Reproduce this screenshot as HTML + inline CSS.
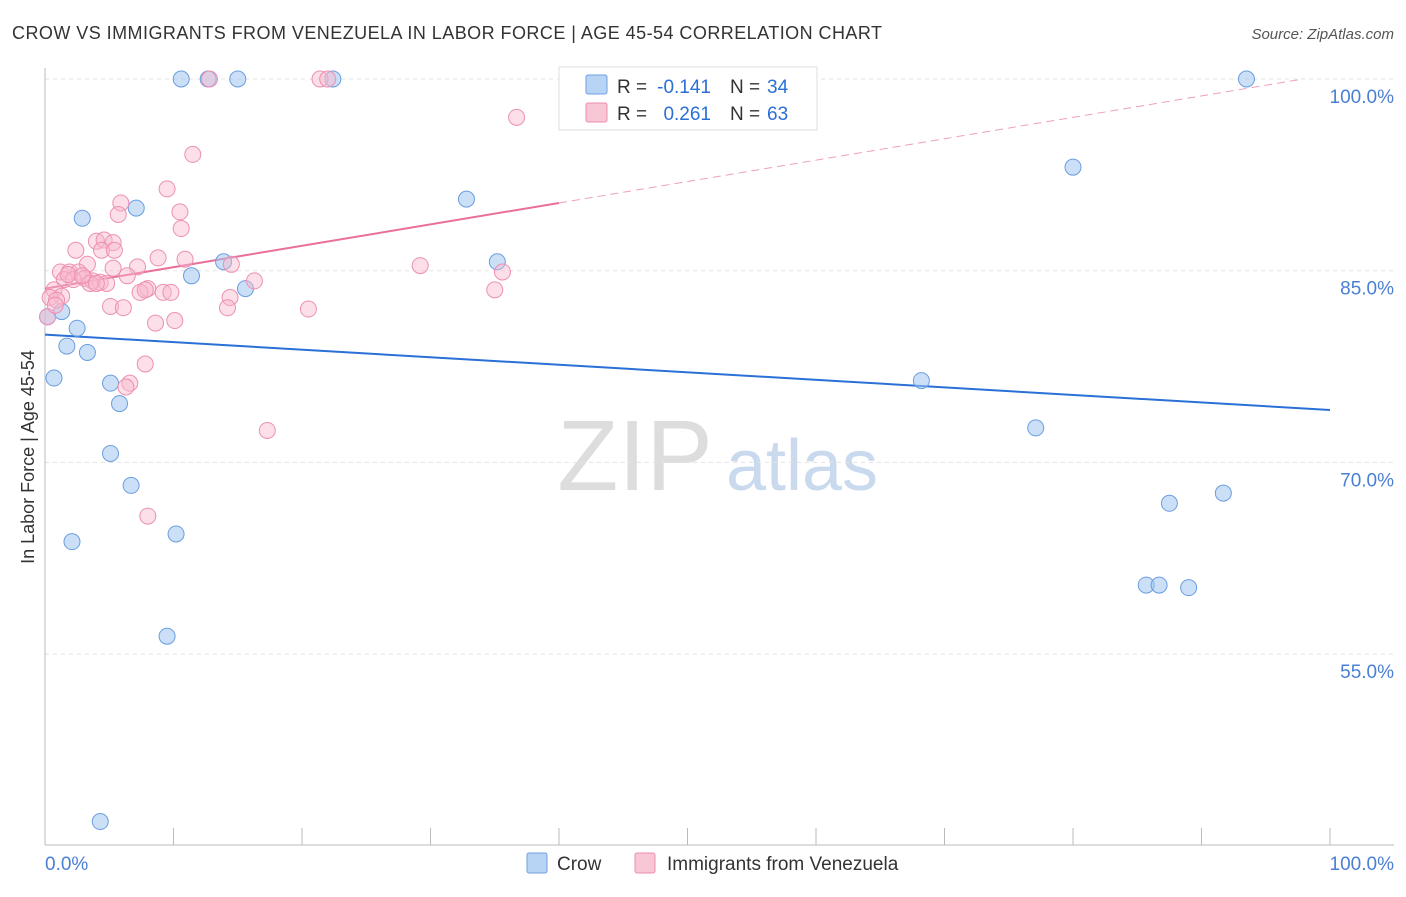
<!DOCTYPE html>
<html><head><meta charset="utf-8"><style>
body{margin:0;background:#fff;font-family:"Liberation Sans",sans-serif;}
svg text{font-family:"Liberation Sans",sans-serif;}
</style></head><body>
<svg id="chart" width="1406" height="892" viewBox="0 0 1406 892" xmlns="http://www.w3.org/2000/svg">
<text x="12" y="39" font-size="18" fill="#333" textLength="870" lengthAdjust="spacing">CROW VS IMMIGRANTS FROM VENEZUELA IN LABOR FORCE | AGE 45-54 CORRELATION CHART</text>
<text x="1394" y="39" font-size="15" fill="#555" text-anchor="end" font-style="italic">Source: ZipAtlas.com</text>
<text x="0" y="0" transform="translate(34,457) rotate(-90)" font-size="18" fill="#333" text-anchor="middle">In Labor Force | Age 45-54</text>
<g>
<text x="635" y="490" font-size="100" fill="#ddd" font-family="Liberation Serif,serif" text-anchor="middle">ZIP</text>
<text x="802" y="490" font-size="72" fill="#c9d9ee" text-anchor="middle">atlas</text>
</g>
<g id="grid"></g><g id="axes"></g><g id="trends"></g><g id="points"></g>
<g>
<rect x="559" y="67" width="258" height="63" fill="#fff" stroke="#ddd"/>
<rect x="586" y="75" width="21" height="19" fill="#b8d4f5" stroke="#6fa0e0" rx="2"/>
<text x="617" y="93" font-size="19" fill="#333">R =</text>
<text x="711" y="93" font-size="19" fill="#2a6fd6" text-anchor="end">-0.141</text>
<text x="730" y="93" font-size="19" fill="#333">N =</text>
<text x="767" y="93" font-size="19" fill="#2a6fd6">34</text>
<rect x="586" y="103" width="21" height="19" fill="#f9c6d6" stroke="#ec8fb0" rx="2"/>
<text x="617" y="120" font-size="19" fill="#333">R =</text>
<text x="711" y="120" font-size="19" fill="#2a6fd6" text-anchor="end">0.261</text>
<text x="730" y="120" font-size="19" fill="#333">N =</text>
<text x="767" y="120" font-size="19" fill="#2a6fd6">63</text>
</g>
<g>
<rect x="527" y="853" width="20" height="20" fill="#b8d4f5" stroke="#6fa0e0" rx="2"/>
<text x="557" y="870" font-size="19" fill="#333">Crow</text>
<rect x="635" y="853" width="20" height="20" fill="#f9c6d6" stroke="#ec8fb0" rx="2"/>
<text x="667" y="870" font-size="19" fill="#333">Immigrants from Venezuela</text>
</g>
</svg>
<script>
const yTicks=[100,85,70,55];
const yTickLabels=["100.0%","85.0%","70.0%","55.0%"];
const xTickLabels=["0.0%","100.0%"];
const crowX=[10.6,12.7,15.0,22.4,93.5,2.9,7.1,32.8,80.0,13.9,35.2,11.4,15.6,0.2,1.3,2.5,1.7,3.3,0.7,5.1,5.8,68.2,77.1,5.1,6.7,2.1,10.2,87.5,91.7,85.7,86.7,89.0,9.5,4.3];
const crowY=[100,100,100,100,100,89.1,89.9,90.6,93.1,85.7,85.7,84.6,83.6,81.4,81.8,80.5,79.1,78.6,76.6,76.2,74.6,76.4,72.7,70.7,68.2,63.8,64.4,66.8,67.6,60.4,60.4,60.2,56.4,41.9];
const venX=[12.8,21.4,22.0,36.7,11.5,9.5,5.9,5.7,10.5,10.6,4.0,4.6,5.3,2.4,4.4,5.4,8.8,10.9,3.3,14.5,29.2,7.2,1.2,1.9,2.6,6.4,35.6,3.1,1.5,2.2,3.7,4.3,4.8,16.3,8.0,7.4,9.2,9.8,35.0,0.7,1.3,0.4,0.9,14.4,5.1,6.1,14.2,20.5,8.6,10.1,7.8,6.6,6.3,17.3,8.0,0.2,0.8,3.5,1.8,2.9,4.0,5.3,7.8];
const venY=[100,100,100,97.0,94.1,91.4,90.3,89.4,89.6,88.3,87.3,87.4,87.2,86.6,86.6,86.6,86.0,85.9,85.5,85.5,85.4,85.3,84.9,84.9,84.9,84.6,84.9,84.4,84.3,84.3,84.2,84.1,84.0,84.2,83.6,83.3,83.3,83.3,83.5,83.5,83.0,82.9,82.7,82.9,82.2,82.1,82.1,82.0,80.9,81.1,77.7,76.2,75.9,72.5,65.8,81.4,82.3,84.0,84.7,84.6,84.0,85.2,83.5];
const crowTrend=[80.0,74.1];
const venTrend=[83.6,100.35];
const venSolidEnd=40;
const NS="http://www.w3.org/2000/svg";
const xs=v=>45+v*12.85;
const ys=v=>79+(100-v)*12.78;
function mk(tag,attrs,parent){const e=document.createElementNS(NS,tag);for(const k in attrs)e.setAttribute(k,attrs[k]);document.getElementById(parent).appendChild(e);return e;}
yTicks.forEach((t,i)=>{
 const l=mk('line',{x1:45,x2:1394,y1:ys(t),y2:ys(t),stroke:'#e3e3e3','stroke-dasharray':'4,4'},'grid');
 
 
 const tx=mk('text',{x:1394,y:ys(t)+24,'font-size':19,fill:'#4a7fd4','text-anchor':'end'},'axes');
 tx.textContent=yTickLabels[i];
 
 
});
let a=mk('line',{x1:45,x2:45,y1:68,y2:845,stroke:'#bbb'},'axes');


a=mk('line',{x1:45,x2:1394,y1:845,y2:845,stroke:'#bbb'},'axes');


for(let i=0;i<=10;i++){const t=mk('line',{x1:xs(i*10),x2:xs(i*10),y1:828,y2:845,stroke:'#bbb'},'axes');
 
 }
[[0,'start',45],[100,'end',1394]].forEach((d,i)=>{const t=mk('text',{x:d[2],y:870,'font-size':19,fill:'#4a7fd4','text-anchor':d[1]},'axes');t.textContent=xTickLabels[i];
 
 });
crowX.forEach((x,i)=>{const c=mk('circle',{cx:xs(x),cy:ys(crowY[i]),r:8,fill:'rgba(160,196,240,0.55)',stroke:'#6a9ee0','stroke-width':1},'points');
 
 });
venX.forEach((x,i)=>{const c=mk('circle',{cx:xs(x),cy:ys(venY[i]),r:8,fill:'rgba(248,185,205,0.45)',stroke:'#ec90b2','stroke-width':1},'points');
 
 });
let l=mk('line',{x1:xs(0),y1:ys(crowTrend[0]),x2:xs(100),y2:ys(crowTrend[1]),stroke:'#2a70d6','stroke-width':2},'trends');


const vAt=x=>venTrend[0]+(venTrend[1]-venTrend[0])*x/100;
l=mk('line',{x1:xs(0),y1:ys(vAt(0)),x2:xs(venSolidEnd),y2:ys(vAt(venSolidEnd)),stroke:'#e8709a','stroke-width':2},'trends');


const xEnd=Math.min(100,(100-venTrend[0])/(venTrend[1]-venTrend[0])*100);
l=mk('line',{x1:xs(venSolidEnd),y1:ys(vAt(venSolidEnd)),x2:xs(xEnd),y2:ys(vAt(xEnd)),stroke:'#eda0bb','stroke-width':1,'stroke-dasharray':'8,5'},'trends');


</script>
</body></html>
